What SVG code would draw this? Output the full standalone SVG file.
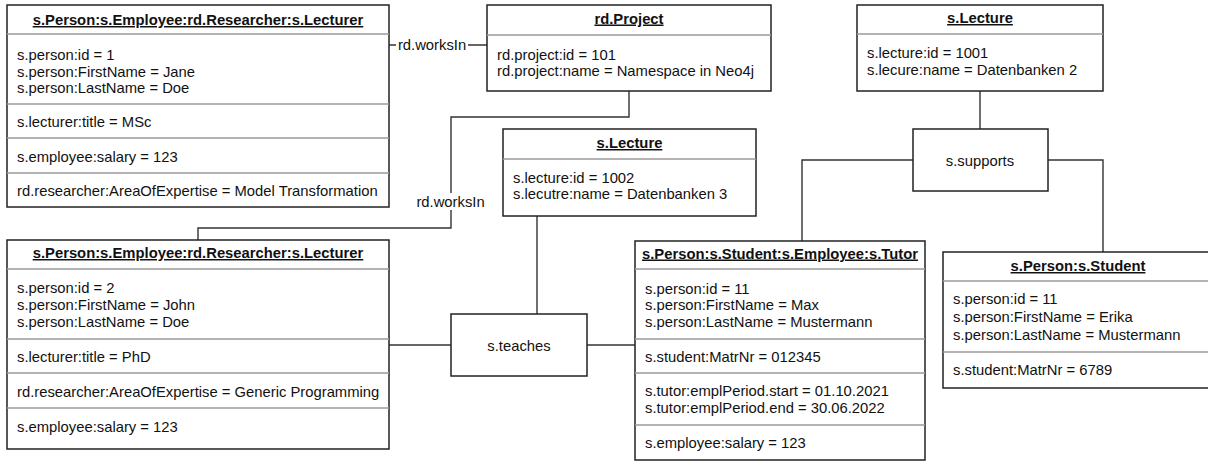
<svg xmlns="http://www.w3.org/2000/svg" width="1208" height="462" viewBox="0 0 1208 462">
<style>
.box{fill:#fff;stroke:#222;stroke-width:1.5}
.sep{stroke:#9a9a9a;stroke-width:1.6;fill:none}
.con{stroke:#333;stroke-width:1.4;fill:none}
text{font-family:"Liberation Sans",Arial,sans-serif;font-size:14.8px;fill:#111}
.t{font-weight:bold;text-anchor:middle;text-decoration:underline}
.c{text-anchor:middle}
</style>
<rect width="1208" height="462" fill="#fff"/>
<g id="connectors">
<path class="con" d="M389,45 H487"/>
<path class="con" d="M629,91 V117 H451 V228 H198 V240"/>
<path class="con" d="M389,345 H451"/>
<path class="con" d="M537,216 V314"/>
<path class="con" d="M587,345 H635"/>
<path class="con" d="M980,91 V129"/>
<path class="con" d="M913,160 H802 V241"/>
<path class="con" d="M1048,160 H1103 V252"/>
<rect x="396" y="37" width="72" height="16" fill="#fff"/>
<text x="432" y="50" class="c">rd.worksIn</text>
<rect x="416" y="193" width="70" height="17" fill="#fff"/>
<text x="450.5" y="207" class="c">rd.worksIn</text>
</g>
<g id="lecturer1">
<rect class="box" x="7" y="5" width="382" height="202"/>
<line class="sep" x1="7" y1="34" x2="389" y2="34"/>
<line class="sep" x1="7" y1="104" x2="389" y2="104"/>
<line class="sep" x1="7" y1="138" x2="389" y2="138"/>
<line class="sep" x1="7" y1="173" x2="389" y2="173"/>
<text x="198" y="25" class="t">s.Person:s.Employee:rd.Researcher:s.Lecturer</text>
<text x="17" y="60">s.person:id = 1</text>
<text x="17" y="76.5">s.person:FirstName = Jane</text>
<text x="17" y="93">s.person:LastName = Doe</text>
<text x="17" y="127">s.lecturer:title = MSc</text>
<text x="17" y="162">s.employee:salary = 123</text>
<text x="17" y="196">rd.researcher:AreaOfExpertise = Model Transformation</text>
</g>
<g id="project">
<rect class="box" x="487" y="5" width="284" height="86"/>
<line class="sep" x1="487" y1="35" x2="771" y2="35"/>
<text x="629" y="23.5" class="t">rd.Project</text>
<text x="497" y="59.5">rd.project:id = 101</text>
<text x="497" y="75.5">rd.project:name = Namespace in Neo4j</text>
</g>
<g id="lecture1001">
<rect class="box" x="857" y="5" width="246" height="86"/>
<line class="sep" x1="857" y1="34" x2="1103" y2="34"/>
<text x="980" y="23" class="t">s.Lecture</text>
<text x="867" y="58">s.lecture:id = 1001</text>
<text x="867" y="75">s.lecure:name = Datenbanken 2</text>
</g>
<g id="supports">
<rect class="box" x="913" y="129" width="135" height="62"/>
<text x="980" y="166" class="c">s.supports</text>
</g>
<g id="lecture1002">
<rect class="box" x="503" y="129" width="253" height="87"/>
<line class="sep" x1="503" y1="159" x2="756" y2="159"/>
<text x="629.5" y="148" class="t">s.Lecture</text>
<text x="513" y="182.5">s.lecture:id = 1002</text>
<text x="513" y="199">s.lecutre:name = Datenbanken 3</text>
</g>
<g id="lecturer2">
<rect class="box" x="7" y="240" width="382" height="209"/>
<line class="sep" x1="7" y1="269" x2="389" y2="269"/>
<line class="sep" x1="7" y1="339" x2="389" y2="339"/>
<line class="sep" x1="7" y1="373" x2="389" y2="373"/>
<line class="sep" x1="7" y1="408" x2="389" y2="408"/>
<text x="198" y="258" class="t">s.Person:s.Employee:rd.Researcher:s.Lecturer</text>
<text x="17" y="292.5">s.person:id = 2</text>
<text x="17" y="309.5">s.person:FirstName = John</text>
<text x="17" y="326.5">s.person:LastName = Doe</text>
<text x="17" y="361.5">s.lecturer:title = PhD</text>
<text x="17" y="396.5">rd.researcher:AreaOfExpertise = Generic Programming</text>
<text x="17" y="431.5">s.employee:salary = 123</text>
</g>
<g id="teaches">
<rect class="box" x="451" y="314" width="136" height="62"/>
<text x="519" y="351" class="c">s.teaches</text>
</g>
<g id="tutor">
<rect class="box" x="635" y="241" width="290" height="219"/>
<line class="sep" x1="635" y1="269" x2="925" y2="269"/>
<line class="sep" x1="635" y1="339" x2="925" y2="339"/>
<line class="sep" x1="635" y1="373" x2="925" y2="373"/>
<line class="sep" x1="635" y1="425" x2="925" y2="425"/>
<text x="780" y="258.5" class="t">s.Person:s.Student:s.Employee:s.Tutor</text>
<text x="645" y="293.5">s.person:id = 11</text>
<text x="645" y="310">s.person:FirstName = Max</text>
<text x="645" y="327">s.person:LastName = Mustermann</text>
<text x="645" y="361.5">s.student:MatrNr = 012345</text>
<text x="645" y="396">s.tutor:emplPeriod.start = 01.10.2021</text>
<text x="645" y="412.5">s.tutor:emplPeriod.end = 30.06.2022</text>
<text x="645" y="447.5">s.employee:salary = 123</text>
</g>
<g id="student">
<rect class="box" x="943" y="252" width="270" height="136"/>
<line class="sep" x1="943" y1="281" x2="1213" y2="281"/>
<line class="sep" x1="943" y1="352" x2="1213" y2="352"/>
<text x="1078" y="271" class="t">s.Person:s.Student</text>
<text x="953" y="304">s.person:id = 11</text>
<text x="953" y="321.5">s.person:FirstName = Erika</text>
<text x="953" y="339.5">s.person:LastName = Mustermann</text>
<text x="953" y="374.5">s.student:MatrNr = 6789</text>
</g>
</svg>
